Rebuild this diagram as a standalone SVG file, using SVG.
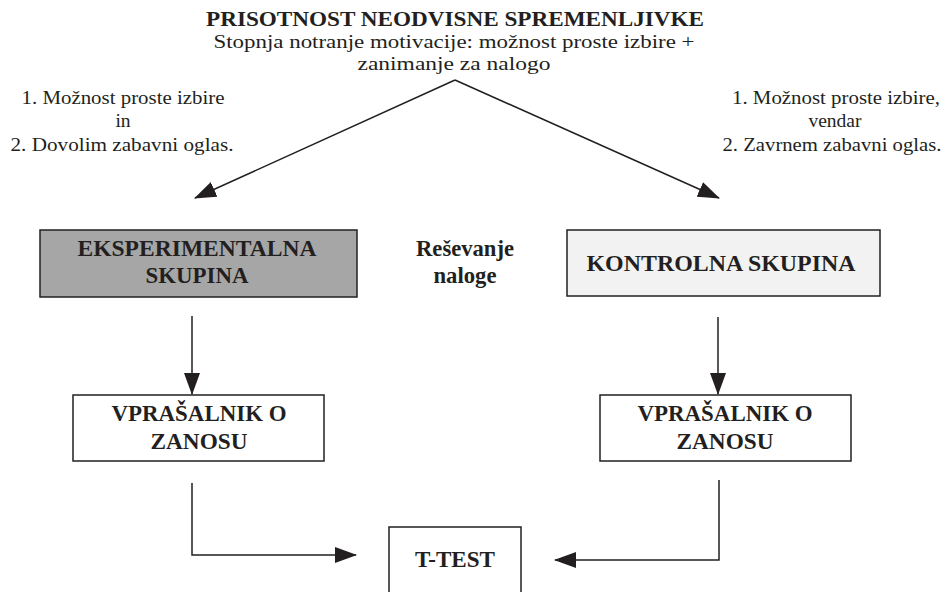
<svg xmlns="http://www.w3.org/2000/svg" width="948" height="592" viewBox="0 0 948 592" font-family="'Liberation Serif', Tinos, 'Nimbus Roman', 'Nimbus Roman No9 L', FreeSerif, 'Noto Serif', 'DejaVu Serif', 'Times New Roman', Times, serif">
<style>
  text { font-family: 'Liberation Serif', Tinos, 'Nimbus Roman', 'Nimbus Roman No9 L', FreeSerif, 'Noto Serif', 'DejaVu Serif', 'Times New Roman', Times, serif; fill: #231f20; text-anchor: middle; }
  .b { font-weight: bold; font-size: 23px; }
  .h { font-weight: bold; font-size: 20px; }
  .r { font-size: 19.5px; }
  .s { font-size: 19.5px; }
  .box { stroke: #231f20; stroke-width: 1.5; }
  .ln { fill: none; stroke: #231f20; stroke-width: 1.5; }
</style>
<defs>
  <marker id="ah" markerWidth="22" markerHeight="16" refX="21" refY="8" orient="auto" markerUnits="userSpaceOnUse">
    <path d="M0,0 L22,8 L0,16 z" fill="#231f20"/>
  </marker>
</defs>
<rect width="948" height="592" fill="#ffffff"/>

<g id="header">
  <text class="h" x="455" y="26" textLength="498" lengthAdjust="spacingAndGlyphs">PRISOTNOST NEODVISNE SPREMENLJIVKE</text>
  <text class="r" x="454" y="48" textLength="481" lengthAdjust="spacingAndGlyphs">Stopnja notranje motivacije: možnost proste izbire +</text>
  <text class="r" x="454" y="70" textLength="193" lengthAdjust="spacingAndGlyphs">zanimanje za nalogo</text>
</g>

<g id="label-left">
  <text class="s" x="123" y="104" textLength="203" lengthAdjust="spacingAndGlyphs">1. Možnost proste izbire</text>
  <text class="s" x="123" y="127">in</text>
  <text class="s" x="122" y="151" textLength="223" lengthAdjust="spacingAndGlyphs">2. Dovolim zabavni oglas.</text>
</g>

<g id="label-right">
  <text class="s" x="836" y="104" textLength="208" lengthAdjust="spacingAndGlyphs">1. Možnost proste izbire,</text>
  <text class="s" x="835" y="127">vendar</text>
  <text class="s" x="832" y="151" textLength="219" lengthAdjust="spacingAndGlyphs">2. Zavrnem zabavni oglas.</text>
</g>

<g id="eksperimentalna">
  <rect class="box" x="40" y="230" width="317" height="67" fill="#a6a6a6"/>
  <text class="b" x="197" y="256" textLength="239" lengthAdjust="spacingAndGlyphs">EKSPERIMENTALNA</text>
  <text class="b" x="197" y="283" textLength="103" lengthAdjust="spacingAndGlyphs">SKUPINA</text>
</g>

<g id="resevanje">
  <text class="b" x="465" y="256" font-size="22" textLength="98" lengthAdjust="spacingAndGlyphs">Reševanje</text>
  <text class="b" x="465" y="283" font-size="22" textLength="63" lengthAdjust="spacingAndGlyphs">naloge</text>
</g>

<g id="kontrolna">
  <rect class="box" x="567" y="230" width="313" height="66" fill="#f2f2f2"/>
  <text class="b" x="721" y="271" textLength="269" lengthAdjust="spacingAndGlyphs">KONTROLNA SKUPINA</text>
</g>

<g id="vprasalnik-left">
  <rect class="box" x="73" y="395" width="251" height="66" fill="#ffffff"/>
  <text class="b" x="199" y="421" textLength="175" lengthAdjust="spacingAndGlyphs">VPRAŠALNIK O</text>
  <text class="b" x="199" y="449" textLength="97" lengthAdjust="spacingAndGlyphs">ZANOSU</text>
</g>

<g id="vprasalnik-right">
  <rect class="box" x="600" y="395" width="251" height="66" fill="#ffffff"/>
  <text class="b" x="725" y="421" textLength="175" lengthAdjust="spacingAndGlyphs">VPRAŠALNIK O</text>
  <text class="b" x="725" y="449" textLength="97" lengthAdjust="spacingAndGlyphs">ZANOSU</text>
</g>

<g id="ttest">
  <rect class="box" x="389" y="527" width="132" height="80" fill="#ffffff"/>
  <text class="b" x="455" y="567" textLength="80" lengthAdjust="spacingAndGlyphs">T-TEST</text>
</g>

<g id="connectors">
  <path class="ln" d="M455,80 L195,198" marker-end="url(#ah)"/>
  <path class="ln" d="M455,80 L719,198" marker-end="url(#ah)"/>
  <path class="ln" d="M192,316 L192,394" marker-end="url(#ah)"/>
  <path class="ln" d="M718,317 L718,394" marker-end="url(#ah)"/>
  <path class="ln" d="M192,483 L192,555 L356,555" marker-end="url(#ah)"/>
  <path class="ln" d="M719,480 L719,560 L555,560" marker-end="url(#ah)"/>
</g>
</svg>
